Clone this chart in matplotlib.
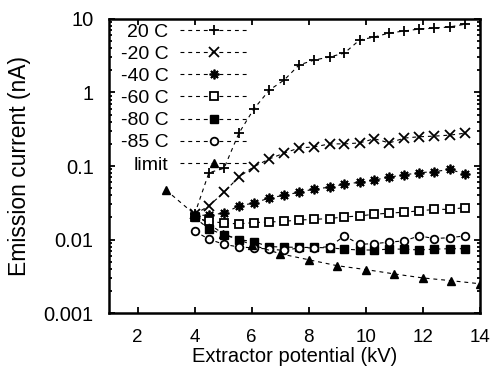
import numpy as np
import matplotlib
matplotlib.use("Agg")
import matplotlib.pyplot as plt
from matplotlib.ticker import FuncFormatter, LogLocator

plt.rcParams['font.family'] = ['Liberation Sans', 'DejaVu Sans']

# extractor potential (kV) grid shared by the temperature series
volts = [4.0, 4.5, 5.03, 5.55, 6.08, 6.62, 7.14, 7.66, 8.2, 8.73, 9.25,
         9.78, 10.3, 10.82, 11.35, 11.87, 12.4, 12.94, 13.48]

i_20 = [0.022, 0.081, 0.093, 0.279, 0.6, 1.08, 1.48, 2.37, 2.77, 3.04, 3.44,
        5.18, 5.69, 6.45, 6.87, 7.3, 7.5, 7.8, 8.5]
i_m20 = [0.022, 0.0286, 0.044, 0.071, 0.098, 0.125, 0.15, 0.176, 0.182, 0.2, 0.2,
         0.206, 0.235, 0.206, 0.24, 0.25, 0.255, 0.263, 0.28]
i_m40 = [0.021, 0.0216, 0.0228, 0.0286, 0.0314, 0.0367, 0.040, 0.044, 0.0487, 0.0514,
         0.0568, 0.060, 0.0645, 0.0707, 0.0757, 0.0811, 0.0838, 0.0897, 0.078]
i_m60 = [0.020, 0.0176, 0.0168, 0.0163, 0.017, 0.0173, 0.0177, 0.0184, 0.0188, 0.0193,
         0.0203, 0.0209, 0.0221, 0.0228, 0.0236, 0.0245, 0.0257, 0.0257, 0.0272]
i_m80 = [0.02, 0.0139, 0.0116, 0.0100, 0.0093, 0.0080, 0.0079, 0.0078, 0.0078, 0.0077,
         0.0074, 0.0072, 0.0072, 0.0074, 0.0074, 0.0072, 0.0074, 0.0075, 0.0075]
i_m85 = [0.013, 0.0101, 0.0086, 0.0079, 0.0077, 0.0074, 0.0071, 0.0077, 0.0077, 0.0080,
         0.0112, 0.0086, 0.0088, 0.0092, 0.0096, 0.0112, 0.0103, 0.0106, 0.0112]

# limit curve
volts_lim = [3, 4, 5, 6, 7, 8, 9, 10, 11, 12, 13, 14]
i_lim = [0.047, 0.022, 0.012, 0.0085, 0.0064, 0.0053, 0.0044, 0.0039,
         0.0034, 0.0030, 0.00275, 0.0025]

labels = ["20 C", "-20 C", "-40 C", "-60 C", "-80 C", "-85 C", "limit"]

fig = plt.figure(figsize=(5.0, 3.71), dpi=100)
ax = fig.add_axes([0.218, 0.1563, 0.742, 0.7925])

dash = (0, (3.5, 3.5))
common = dict(color="black", linestyle=dash, linewidth=0.8, markeredgecolor="black")

ax.plot(volts, i_20, marker="+", markersize=7.5, markeredgewidth=1.3, label=labels[0], **common)
ax.plot(volts, i_m20, marker="x", markersize=6.5, markeredgewidth=1.3, label=labels[1], **common)
ax.plot(volts, i_m40, marker=(8, 2, 0), markersize=7, markeredgewidth=1.3, label=labels[2], **common)
ax.plot(volts, i_m60, marker="s", markersize=5.5, markeredgewidth=1.3,
        markerfacecolor="white", label=labels[3], **common)
ax.plot(volts, i_m80, marker="s", markersize=5.5, markeredgewidth=1.0,
        markerfacecolor="black", label=labels[4], **common)
ax.plot(volts, i_m85, marker="o", markersize=5.5, markeredgewidth=1.3,
        markerfacecolor="white", label=labels[5], **common)
ax.plot(volts_lim, i_lim, marker="^", markersize=5.5, markeredgewidth=1.0,
        markerfacecolor="black", label=labels[6], **common)

ax.set_yscale("log")
ax.set_xlim(1, 14)
ax.set_ylim(0.001, 10)
ax.set_xticks([2, 4, 6, 8, 10, 12, 14])
ax.yaxis.set_major_locator(LogLocator(base=10, numticks=10))
ax.yaxis.set_minor_locator(LogLocator(base=10, subs=np.arange(2, 10), numticks=10))
ax.yaxis.set_major_formatter(FuncFormatter(lambda v, p: "%g" % v))

ax.tick_params(which="both", direction="in", top=True, right=True, labelsize=14.5, width=1.3)
ax.tick_params(axis="x", labelsize=13.5)
ax.tick_params(which="major", length=4.5)
ax.tick_params(which="minor", length=2.5)
ax.tick_params(axis="x", which="major", pad=11.5)
ax.tick_params(axis="y", which="major", pad=11)
for s in ax.spines.values():
    s.set_linewidth(1.8)

ax.set_xlabel("Extractor potential (kV)", fontsize=14.5, labelpad=0.5)
ax.set_ylabel("Emission current (nA)", fontsize=16.5, labelpad=9)

ax.legend(loc="upper right", bbox_to_anchor=(0.375, 0.985), frameon=False, markerfirst=False,
          fontsize=14, handlelength=3.5, handletextpad=0.6, labelspacing=0.23,
          borderpad=0, borderaxespad=0, numpoints=1)

fig.savefig("out.png", dpi=100)
